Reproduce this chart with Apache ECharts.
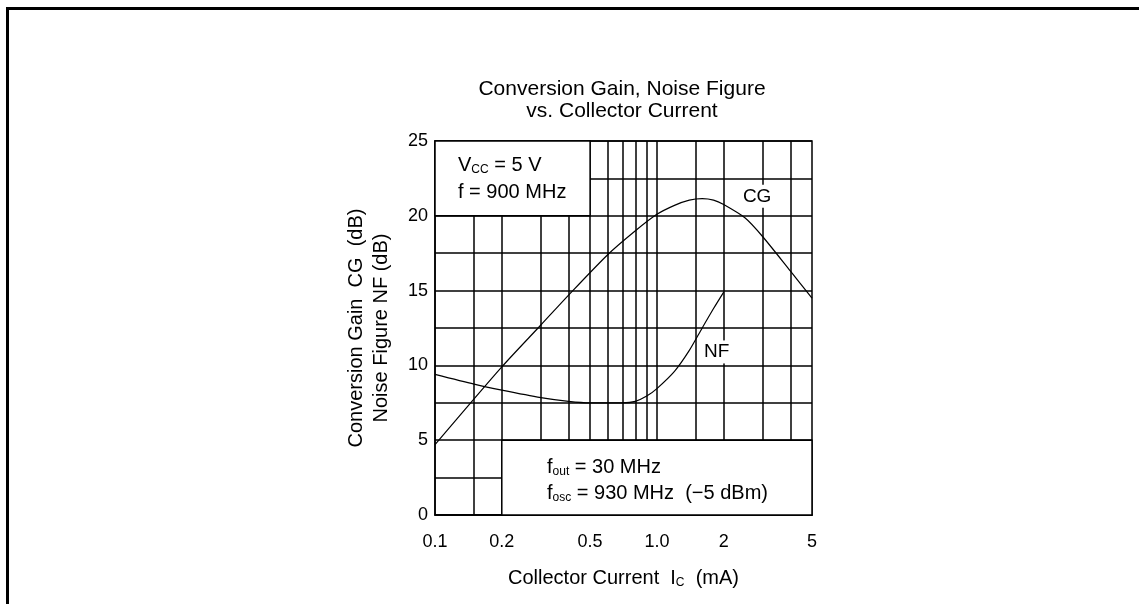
<!DOCTYPE html>
<html>
<head>
<meta charset="utf-8">
<script src="https://cdn.jsdelivr.net/npm/echarts@6/dist/echarts.min.js"></script>
<style>
  html, body { margin: 0; padding: 0; background: #fff; }
  #main { width: 1139px; height: 604px; }
</style>
</head>
<body>
<div id="main"></div>
<script>
// collector current (mA) on a log axis
const xTicks = [0.1, 0.2, 0.5, 1, 2, 5]
const xTickLabels = ['0.1', '0.2', '0.5', '1.0', '2', '5']
const xGridLines = [0.15, 0.2, 0.3, 0.4, 0.5, 0.6, 0.7, 0.8, 0.9, 1, 1.5, 2, 3, 4]

// conversion gain CG (dB)
const cgCurrent = [0.1, 0.2, 0.3, 0.4, 0.6, 0.8, 1.0, 1.2, 1.4, 1.6, 1.8, 2.0, 2.5, 3.0, 4.0, 5.0]
const cgValues = [4.7, 9.9, 12.7, 14.7, 17.4, 19.0, 20.1, 20.7, 21.05, 21.15, 21.05, 20.75, 19.85, 18.6, 16.3, 14.5]

// noise figure NF (dB)
const nfCurrent = [0.1, 0.15, 0.2, 0.3, 0.4, 0.5, 0.6, 0.7, 0.8, 0.9, 1.0, 1.2, 1.4, 1.6, 1.8, 2.0]
const nfValues = [9.4, 8.75, 8.35, 7.85, 7.6, 7.5, 7.5, 7.5, 7.6, 7.95, 8.45, 9.6, 11.0, 12.5, 13.8, 14.9]

// white note boxes over the grid: [x0, y0, x1, y1]
const noteBoxes = [[0.1, 20, 0.5, 25], [0.2, 0, 5, 5]]
// curve names placed on the chart
const curveTags = [{name: 'CG', at: [2.83, 21.3]}, {name: 'NF', at: [1.86, 10.9]}]

const FONT = '"Liberation Sans", Arial, sans-serif'

const pairs = (xs, ys) => xs.map((x, i) => [x, ys[i]])
const tickLabel = (v) => {
  for (let i = 0; i < xTicks.length; i++) {
    if (Math.abs(Math.log10(v / xTicks[i])) < 0.01) return xTickLabels[i]
  }
  return ''
}
const subRich = {
  n: {fontFamily: FONT, fontSize: 20, fill: '#000'},
  s: {fontFamily: FONT, fontSize: 12, fill: '#000', padding: [9, 0, 0, 0]}
}

const chart = echarts.init(document.getElementById('main'))

const option = {
  backgroundColor: '#fff',
  animation: false,
  textStyle: {fontFamily: FONT, color: '#000'},
  grid: {
    left: 435, right: 327, top: 141, bottom: 89,
    show: true, borderColor: '#000', borderWidth: 1.5, backgroundColor: '#fff'
  },
  xAxis: {
    type: 'log',
    logBase: 10,
    min: 0.1,
    max: 5,
    name: '{n|Collector Current  I}{s|C}{n|  (mA)}',
    nameLocation: 'middle',
    nameGap: 53,
    nameTextStyle: {
      rich: {
        n: {fontFamily: FONT, fontSize: 20, color: '#000'},
        s: {fontFamily: FONT, fontSize: 12, color: '#000', padding: [9, 0, 0, 0]}
      }
    },
    axisLine: {show: true, lineStyle: {color: '#000', width: 1.5}},
    axisTick: {show: false},
    splitLine: {show: false},
    minorSplitLine: {show: false},
    axisLabel: {
      customValues: xTicks,
      formatter: tickLabel,
      color: '#000',
      fontFamily: FONT,
      fontSize: 18,
      margin: 18
    }
  },
  yAxis: {
    type: 'value',
    min: 0,
    max: 25,
    interval: 2.5,
    name: 'Conversion Gain  CG  (dB)\nNoise Figure NF (dB)',
    nameLocation: 'middle',
    nameRotate: 90,
    nameGap: 41,
    nameTextStyle: {fontFamily: FONT, fontSize: 20, lineHeight: 25, color: '#000'},
    axisLine: {show: true, lineStyle: {color: '#000', width: 1.5}},
    axisTick: {show: false},
    splitLine: {show: true, lineStyle: {color: '#000', width: 1.5}},
    axisLabel: {
      formatter: (v) => (v % 5 === 0 ? String(v) : ''),
      color: '#000',
      fontFamily: FONT,
      fontSize: 18,
      margin: 7
    }
  },
  series: [
    {
      // vertical log grid lines
      type: 'line',
      data: [],
      silent: true,
      z: 2,
      markLine: {
        z: 2,
        silent: true,
        symbol: 'none',
        label: {show: false},
        lineStyle: {color: '#000', width: 1.5, type: 'solid'},
        data: xGridLines.map(v => ({xAxis: v}))
      }
    },
    {
      // note boxes hiding part of the grid
      type: 'line',
      data: [],
      silent: true,
      z: 3,
      markArea: {
        z: 3,
        silent: true,
        itemStyle: {color: '#fff', borderColor: '#000', borderWidth: 1.5},
        data: noteBoxes.map(b => [{coord: [b[0], b[1]]}, {coord: [b[2], b[3]]}])
      }
    },
    {
      name: 'CG',
      type: 'line',
      z: 4,
      data: pairs(cgCurrent, cgValues),
      smooth: 0.25,
      showSymbol: false,
      lineStyle: {color: '#000', width: 1.2}
    },
    {
      name: 'NF',
      type: 'line',
      z: 4,
      data: pairs(nfCurrent, nfValues),
      smooth: 0.25,
      showSymbol: false,
      lineStyle: {color: '#000', width: 1.2},
      markPoint: {
        z: 6,
        silent: true,
        symbol: 'circle',
        symbolSize: 1,
        itemStyle: {color: 'rgba(0,0,0,0)'},
        label: {
          show: true,
          position: 'inside',
          formatter: '{b}',
          color: '#000',
          fontFamily: FONT,
          fontSize: 19,
          backgroundColor: '#fff',
          padding: [2, 3]
        },
        data: curveTags.map(t => ({name: t.name, coord: t.at}))
      }
    }
  ],
  graphic: [
    {
      type: 'polyline',
      silent: true,
      shape: {points: [[7.5, 604], [7.5, 8.5], [1139, 8.5]]},
      style: {stroke: '#000', lineWidth: 3, fill: null}
    },
    {
      type: 'text', x: 622, y: 89,
      style: {text: 'Conversion Gain, Noise Figure', font: '21px ' + FONT, fill: '#000', align: 'center', verticalAlign: 'middle'}
    },
    {
      type: 'text', x: 622, y: 111,
      style: {text: 'vs. Collector Current', font: '21px ' + FONT, fill: '#000', align: 'center', verticalAlign: 'middle'}
    },
    {
      type: 'text', x: 458, y: 165, z: 10,
      style: {text: '{n|V}{s|CC}{n| = 5 V}', verticalAlign: 'middle', rich: subRich}
    },
    {
      type: 'text', x: 458, y: 192, z: 10,
      style: {text: 'f = 900 MHz', font: '20px ' + FONT, fill: '#000', verticalAlign: 'middle'}
    },
    {
      type: 'text', x: 547, y: 467, z: 10,
      style: {text: '{n|f}{s|out}{n| = 30 MHz}', verticalAlign: 'middle', rich: subRich}
    },
    {
      type: 'text', x: 547, y: 493, z: 10,
      style: {text: '{n|f}{s|osc}{n| = 930 MHz  (−5 dBm)}', verticalAlign: 'middle', rich: subRich}
    }
  ]
}

chart.setOption(option)
</script>
</body>
</html>
